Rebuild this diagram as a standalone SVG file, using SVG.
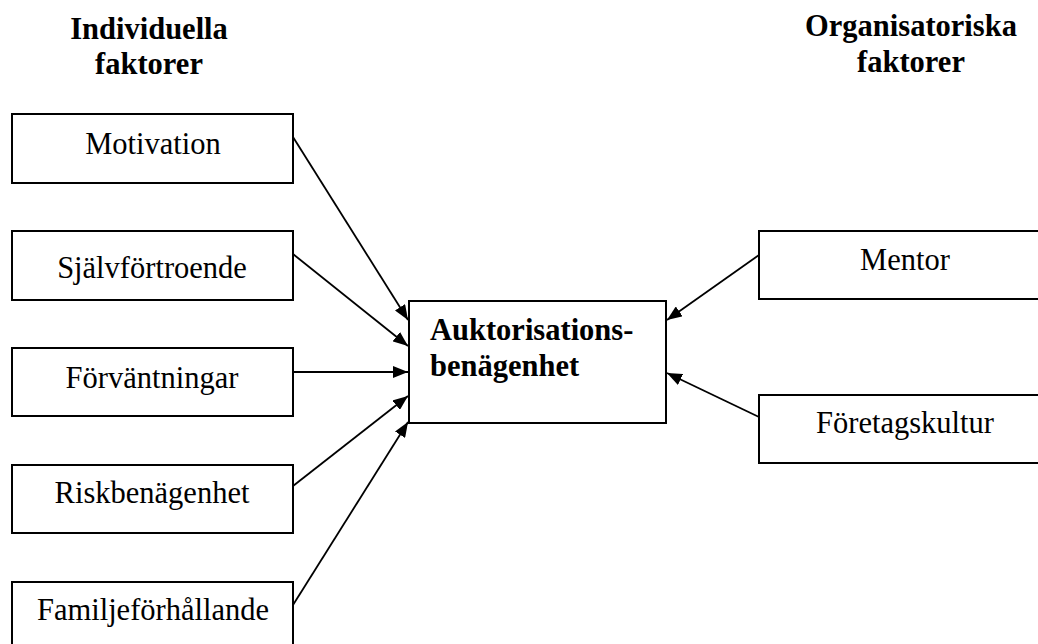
<svg xmlns="http://www.w3.org/2000/svg" width="1038" height="644" viewBox="0 0 1038 644">
<style>
.box{fill:#fff;stroke:#000;stroke-width:2}
.t{font-family:"Liberation Serif","Times New Roman",serif;font-size:30.5px;fill:#000}
.c{text-anchor:middle}
.b{font-weight:bold}
.con line{stroke:#000;stroke-width:1.8;fill:none}
</style>
<defs>
<marker id="ah" markerUnits="userSpaceOnUse" markerWidth="16" markerHeight="12" refX="15" refY="6" orient="auto">
<path d="M0,0 L15,6 L0,12 z" fill="#000"/>
</marker>
</defs>
<rect width="1038" height="644" fill="#fff"/>
<g id="hdr-left"><text class="t b c" x="149" y="39">Individuella</text><text class="t b c" x="149" y="74">faktorer</text></g>
<g id="hdr-right"><text class="t b c" x="911" y="36">Organisatoriska</text><text class="t b c" x="911" y="72">faktorer</text></g>
<g id="n-motivation"><rect class="box" x="12" y="114" width="281" height="69"/><text class="t c" x="153" y="154">Motivation</text></g>
<g id="n-sjalv"><rect class="box" x="12" y="231" width="281" height="69"/><text class="t c" x="152" y="278">Självförtroende</text></g>
<g id="n-forv"><rect class="box" x="12" y="348" width="281" height="68"/><text class="t c" x="152" y="388">Förväntningar</text></g>
<g id="n-risk"><rect class="box" x="12" y="465" width="281" height="68"/><text class="t c" x="152" y="503">Riskbenägenhet</text></g>
<g id="n-familj"><rect class="box" x="12" y="582" width="281" height="80"/><text class="t c" x="153" y="620">Familjeförhållande</text></g>
<g id="n-center"><rect class="box" x="409" y="301" width="257" height="122"/><text class="t b" x="430" y="340">Auktorisations-</text><text class="t b" x="430" y="376">benägenhet</text></g>
<g id="n-mentor"><rect class="box" x="759" y="231" width="292" height="68"/><text class="t c" x="905" y="270">Mentor</text></g>
<g id="n-foretag"><rect class="box" x="759" y="395" width="292" height="68"/><text class="t c" x="905" y="433">Företagskultur</text></g>
<g id="connectors" class="con">
<line x1="293" y1="137" x2="408" y2="320" marker-end="url(#ah)"/>
<line x1="293" y1="254" x2="408" y2="346" marker-end="url(#ah)"/>
<line x1="293" y1="372" x2="408" y2="372" marker-end="url(#ah)"/>
<line x1="293" y1="486" x2="408" y2="396" marker-end="url(#ah)"/>
<line x1="293" y1="605" x2="408" y2="422" marker-end="url(#ah)"/>
<line x1="759" y1="255" x2="667" y2="320" marker-end="url(#ah)"/>
<line x1="759" y1="417" x2="667" y2="373" marker-end="url(#ah)"/>
</g>
</svg>
